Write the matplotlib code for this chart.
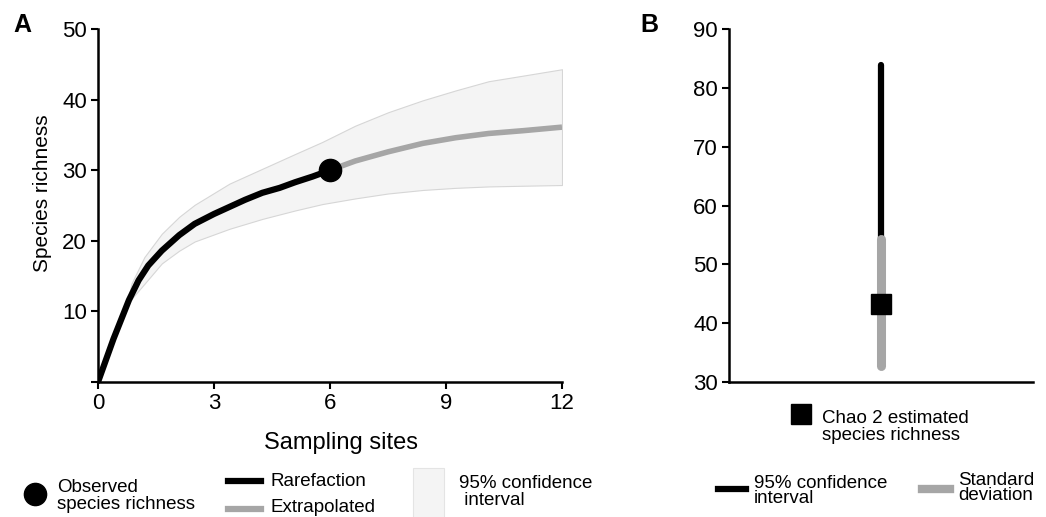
import matplotlib
matplotlib.use('Agg')
from matplotlib import pyplot as plt
from matplotlib.lines import Line2D
from matplotlib.patches import Rectangle

plt.rcParams['font.family'] = ['Liberation Sans', 'DejaVu Sans']

# panel A data
rare_x = [0, 0.4, 0.8, 1.05, 1.3, 1.65, 2.1, 2.5, 3, 3.4, 3.8, 4.25, 4.7, 5.1, 5.55, 6]
rare_y = [0, 6.1, 11.6, 14.4, 16.5, 18.6, 20.8, 22.4, 23.8, 24.8, 25.8, 26.8, 27.5, 28.3, 29.1, 30.0]
extra_x = [6, 6.65, 7.5, 8.4, 9.25, 10.1, 11, 12]
extra_y = [30.0, 31.3, 32.6, 33.8, 34.6, 35.2, 35.6, 36.1]
ci_x = [0.8, 0.87, 1.2, 1.65, 2.1, 2.5, 3.4, 4.25, 5.1, 5.8, 6.65, 7.5, 8.4, 9.25, 10.1, 11, 12]
ci_upper = [12.4, 14.0, 17.7, 21.0, 23.4, 25.1, 28.1, 30.2, 32.3, 34.0, 36.3, 38.2, 39.9, 41.3, 42.6, 43.4, 44.3]
ci_lower = [12.0, 11.8, 13.9, 16.8, 18.6, 19.9, 21.7, 23.1, 24.3, 25.2, 26.0, 26.7, 27.2, 27.5, 27.7, 27.8, 27.9]
obs_x, obs_y = 6, 30

# panel B data
chao2 = 43.3
ci95 = [32.7, 83.9]
sd = [32.7, 54.3]

W, H = 1046, 517
fig = plt.figure(figsize=(W / 100, H / 100), dpi=100)

def fx(p):
    return p / W

def fy(p):
    return 1 - p / H

black = '#000000'
grey = '#a6a6a6'
tick_fs = 16
fs = 13.5

# ---- panel A
axA = fig.add_axes([fx(98), fy(382), fx(562) - fx(98), fy(29) - fy(382)])
axA.fill_between(ci_x, ci_lower, ci_upper, facecolor='#f4f4f4', edgecolor='#d6d6d6', linewidth=0.8, zorder=1)
axA.plot(extra_x, extra_y, color=grey, lw=4, solid_capstyle='butt', solid_joinstyle='round', zorder=2)
axA.plot(rare_x, rare_y, color=black, lw=4.5, solid_capstyle='butt', solid_joinstyle='round', zorder=3)
axA.plot([obs_x], [obs_y], 'o', color=black, ms=16, zorder=4)
axA.set_xlim(0, 12)
axA.set_ylim(0, 50)
axA.set_xticks([0, 3, 6, 9, 12])
axA.set_yticks([0, 10, 20, 30, 40, 50])
axA.set_yticklabels(['', '10', '20', '30', '40', '50'])
axA.set_xlabel('Sampling sites', fontsize=17)
axA.xaxis.set_label_coords(0.524, -0.143)
axA.set_ylabel('Species richness', fontsize=15)
axA.yaxis.set_label_coords(-0.1, 0.535)
for s in ['top', 'right']:
    axA.spines[s].set_visible(False)
for s in ['left', 'bottom']:
    axA.spines[s].set_linewidth(1.8)
axA.tick_params(direction='out', length=5, width=1.5, labelsize=tick_fs, pad=3)

# ---- panel B
axB = fig.add_axes([fx(729), fy(382), fx(1033) - fx(729), fy(29) - fy(382)])
axB.plot([0, 0], ci95, color=black, lw=4.5, solid_capstyle='round', zorder=2)
axB.plot([0, 0], sd, color=grey, lw=6.5, solid_capstyle='round', zorder=3)
axB.plot([0], [chao2], 's', color=black, ms=15, zorder=4)
axB.set_xlim(-1, 1)
axB.set_ylim(30, 90)
axB.set_xticks([])
axB.set_yticks([30, 40, 50, 60, 70, 80, 90])
for s in ['top', 'right']:
    axB.spines[s].set_visible(False)
for s in ['left', 'bottom']:
    axB.spines[s].set_linewidth(1.8)
axB.tick_params(direction='out', length=5, width=1.5, labelsize=tick_fs, pad=3)

# panel letters
fig.text(fx(13), fy(25), 'A', fontsize=18, fontweight='bold', va='center', ha='left')
fig.text(fx(640), fy(25), 'B', fontsize=18, fontweight='bold', va='center', ha='left')

# ---- legend A
fig.add_artist(Line2D([fx(35)], [fy(494)], marker='o', color=black, ms=16, transform=fig.transFigure))
fig.text(fx(57), fy(496), 'Observed\nspecies richness', fontsize=fs, va='center', ha='left', linespacing=1.05)
fig.add_artist(Line2D([fx(228), fx(261)], [fy(481), fy(481)], color=black, lw=4.5, transform=fig.transFigure))
fig.text(fx(270), fy(481), 'Rarefaction', fontsize=fs, va='center', ha='left')
fig.add_artist(Line2D([fx(228), fx(261)], [fy(509), fy(509)], color=grey, lw=4.5, transform=fig.transFigure))
fig.text(fx(270), fy(507), 'Extrapolated', fontsize=fs, va='center', ha='left')
fig.add_artist(Rectangle((fx(413), fy(520)), fx(444) - fx(413), fy(468) - fy(520),
                         facecolor='#f4f4f4', edgecolor='#e4e4e4', lw=0.8, transform=fig.transFigure))
fig.text(fx(459), fy(492), '95% confidence\n interval', fontsize=fs, va='center', ha='left', linespacing=0.95)

# ---- legend B
fig.add_artist(Line2D([fx(801)], [fy(414)], marker='s', color=black, ms=15, transform=fig.transFigure))
fig.text(fx(822), fy(427), 'Chao 2 estimated\nspecies richness', fontsize=fs, va='center', ha='left', linespacing=1.0)
fig.add_artist(Line2D([fx(718), fx(746)], [fy(489), fy(489)], color=black, lw=4.5, transform=fig.transFigure))
fig.text(fx(754), fy(491), '95% confidence\ninterval', fontsize=fs, va='center', ha='left', linespacing=0.9)
fig.add_artist(Line2D([fx(922), fx(950)], [fy(489), fy(489)], color=grey, lw=6, transform=fig.transFigure))
fig.text(fx(958), fy(488), 'Standard\ndeviation', fontsize=fs, va='center', ha='left', linespacing=0.9)

fig.savefig('out.png', dpi=100)
